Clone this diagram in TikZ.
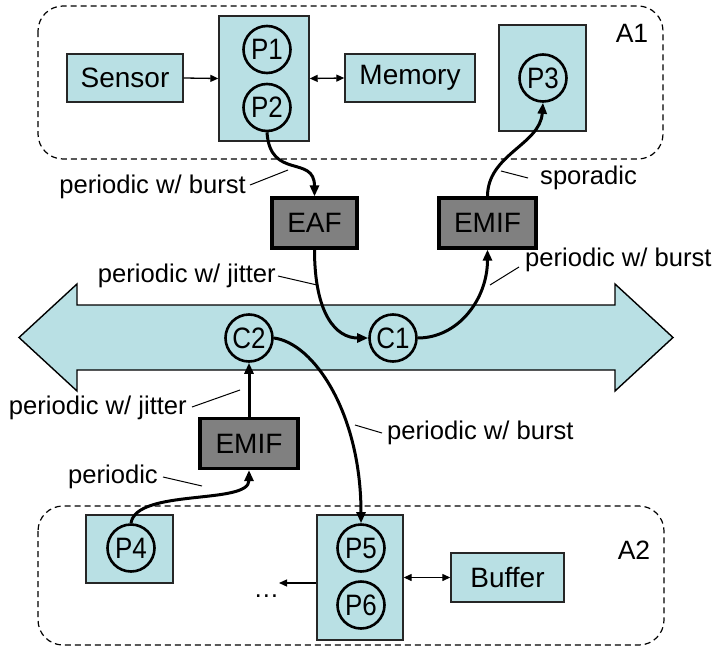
\documentclass[tikz,border=0pt]{standalone}
\usepackage{fontspec}
\setmainfont{Liberation Sans}
\newfontfamily\narrowsans[FakeStretch=0.88]{Liberation Sans}
\usetikzlibrary{arrows.meta}
\definecolor{busfill}{RGB}{185,224,228}
\definecolor{boxgray}{RGB}{128,128,128}

\begin{document}
\begin{tikzpicture}[x=1pt,y=-1pt,
  compbox/.style={draw=black!85, line width=1.4pt, fill=busfill, inner sep=0pt,
    font=\fontsize{28}{32}\selectfont},
  filterbox/.style={draw=black, line width=3.2pt, fill=boxgray, inner sep=0pt,
    minimum height=50pt, font=\fontsize{28}{32}\selectfont},
  proc/.style={circle, draw=black, line width=2.6pt, minimum size=47pt, inner sep=0pt,
    font=\narrowsans\fontsize{29.5}{32}\selectfont},
  area/.style={draw=black, line width=1.2pt, dash pattern=on 6pt off 4pt, rounded corners=25pt},
  areaname/.style={font=\fontsize{26.5}{30}\selectfont, inner sep=0pt},
  flowlabel/.style={font=\fontsize{25.6}{30}\selectfont, inner sep=0pt},
  leader/.style={draw=black, line width=1pt},
  flow/.style={draw=black, line width=3pt, -{Triangle[length=11pt,width=9pt]}},
  link/.style={draw=black, line width=1.3pt, -{Triangle[length=8pt,width=7pt]}},
  duplex/.style={draw=black, line width=1.3pt, {Triangle[length=8pt,width=7pt]}-{Triangle[length=8pt,width=7pt]}}
]
\useasboundingbox (0,0) rectangle (712,653);

% application areas
\draw[area] (38,6) rectangle (663,159);
\draw[area] (38,506) rectangle (664,645);
\node[areaname] (a1) at (632,33) {A1};
\node[areaname] (a2) at (634,550) {A2};

% interconnect bus
\draw[draw=black, line width=1.4pt, fill=busfill]
  (19,337.5) -- (77,284) -- (77,305) -- (615,305) -- (615,284) -- (673,337.5)
  -- (615,391) -- (615,370) -- (77,370) -- (77,391) -- cycle;

% area A1 components
\node[compbox, minimum width=116pt, minimum height=48pt] (sensor) at (125,78) {Sensor};
\node[compbox, minimum width=90pt, minimum height=125pt] (cpu1) at (264,78.5) {};
\node[compbox, minimum width=130pt, minimum height=48pt] (memory) at (410,78) {Memory};
\node[compbox, minimum width=87pt, minimum height=106pt] (cpu3) at (542.5,78) {};
\node[proc] (p1) at (267,49.5) {P1};
\node[proc] (p2) at (267,107.5) {P2};
\node[proc] (p3) at (543,78) {P3};

% area A2 components
\node[compbox, minimum width=87pt, minimum height=68pt] (cpu4) at (129.5,549) {};
\node[compbox, minimum width=86pt, minimum height=125pt] (cpu5) at (360,577.5) {};
\node[compbox, minimum width=113pt, minimum height=49pt] (buffer) at (507.5,577.5) {Buffer};
\node[proc] (p4) at (131,548) {P4};
\node[proc] (p5) at (361,548) {P5};
\node[proc] (p6) at (361,605) {P6};
\node[flowlabel, anchor=base] (more) at (266.5,597) {\dots};
\coordinate (moreend) at (279,583);

% bus channels
\node[proc] (c1) at (393,338) {C1};
\node[proc] (c2) at (249,338) {C2};

% filters
\node[filterbox, minimum width=85pt] (eaf) at (314.5,223) {EAF};
\node[filterbox, minimum width=97pt] (emif1) at (487.5,223) {EMIF};
\node[filterbox, minimum width=98pt] (emif2) at (249,443.5) {EMIF};

% local links
\draw[link] (sensor.east) -- (cpu1.west);
\draw[duplex] (cpu1.east) -- (memory.west);
\draw[duplex] (cpu5.east) -- (buffer.west);
\draw[link] (cpu5.west |- moreend) -- (moreend);

% event streams
\draw[flow] (p2.south) .. controls +(3,48) and +(0,-42) .. (eaf.north);
\draw[flow] (eaf.south) .. controls +(0,65) and +(-32,0) .. (c1.west);
\draw[flow] (c1.east) .. controls +(40,0) and +(0,50) .. (emif1.south);
\draw[flow] (emif1.north) .. controls +(0,-42) and +(-3,42) .. (p3.south);
\draw[flow] (c2.east) .. controls +(40,5) and +(0,-110) .. (p5.north);
\draw[flow] (emif2.north) -- (c2.south);
\draw[flow] (p4.north) .. controls +(5,-35) and +(0,35) .. (emif2.south);

% stream labels
\node[flowlabel, anchor=east] (l1) at (246,187) {periodic w/ burst};
\coordinate (l1end) at (288,170);
\draw[leader] (l1.east) ++(4,-2) -- (l1end);

\node[flowlabel, anchor=east] (l2) at (276,276) {periodic w/ jitter};
\coordinate (l2end) at (317,285);
\draw[leader] (l2.east) ++(2,0) -- (l2end);

\node[flowlabel, anchor=west] (l3) at (525,260) {periodic w/ burst};
\coordinate (l3end) at (490,285);
\draw[leader] (l3.west) ++(-6,7) -- (l3end);

\node[flowlabel, anchor=west] (l4) at (540,178) {sporadic};
\coordinate (l4end) at (501,171);
\draw[leader] (l4.west) ++(-12,0) -- (l4end);

\node[flowlabel, anchor=east] (l5) at (187,408) {periodic w/ jitter};
\coordinate (l5end) at (240,390);
\draw[leader] (l5.east) ++(5,-1) -- (l5end);

\node[flowlabel, anchor=east] (l6) at (158,477) {periodic};
\coordinate (l6end) at (202,486);
\draw[leader] (l6.east) ++(5,0) -- (l6end);

\node[flowlabel, anchor=west] (l7) at (387,433) {periodic w/ burst};
\coordinate (l7end) at (355,425);
\draw[leader] (l7.west) ++(-5,0) -- (l7end);
\end{tikzpicture}
\end{document}
